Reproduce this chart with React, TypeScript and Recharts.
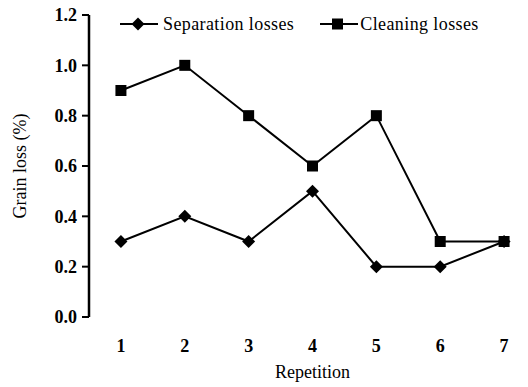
import { Label, Legend, Line, LineChart, XAxis, YAxis } from 'recharts';

const repetitions = [1, 2, 3, 4, 5, 6, 7];
const separationLosses = [0.3, 0.4, 0.3, 0.5, 0.2, 0.2, 0.3];
const cleaningLosses = [0.9, 1.0, 0.8, 0.6, 0.8, 0.3, 0.3];
const yTicks = [0, 0.2, 0.4, 0.6, 0.8, 1.0, 1.2];
const bandEdges = [0.5, 1.5, 2.5, 3.5, 4.5, 5.5, 6.5, 7.5];

const data = repetitions.map((rep, i) => ({
  rep,
  separation: separationLosses[i],
  cleaning: cleaningLosses[i],
}));

const FONT = '"Liberation Serif", "Times New Roman", serif';

function Diamond(props: any) {
  const { cx, cy, index } = props;
  return <path key={`d-${index}`} d={`M${cx},${cy - 6.5}L${cx + 6.5},${cy}L${cx},${cy + 6.5}L${cx - 6.5},${cy}Z`} fill="#000" />;
}

function Square(props: any) {
  const { cx, cy, index } = props;
  return <rect key={`s-${index}`} x={cx - 5.5} y={cy - 5.5} width={11} height={11} fill="#000" />;
}

function LegendContent() {
  const item = (label: string, marker: 'diamond' | 'square', gap: number) => (
    <div style={{ display: 'flex', alignItems: 'center', marginRight: gap }}>
      <svg width={38} height={14}>
        <line x1={0} y1={7} x2={38} y2={7} stroke="#000" strokeWidth={2} />
        {marker === 'diamond' ? (
          <path d="M18,0.5L24.5,7L18,13.5L11.5,7Z" fill="#000" />
        ) : (
          <rect x={12} y={1.5} width={11} height={11} fill="#000" />
        )}
      </svg>
      <span style={{ marginLeft: marker === 'diamond' ? 5 : 2, letterSpacing: 0.4 }}>{label}</span>
    </div>
  );
  return (
    <div style={{ display: 'flex', fontFamily: FONT, fontSize: 18, lineHeight: '20px', color: '#000' }}>
      {item('Separation losses', 'diamond', 26)}
      {item('Cleaning losses', 'square', 0)}
    </div>
  );
}

export default function App() {
  return (
    <div style={{ position: 'absolute', left: 0, top: 0, width: 528, height: 387, overflow: 'hidden', background: '#fff' }}>
      <LineChart width={545} height={387} data={data} margin={{ top: 15, right: 9, bottom: 0, left: 0 }}>
        <XAxis
          xAxisId="edges"
          dataKey="rep"
          type="number"
          domain={[0.5, 7.5]}
          ticks={bandEdges}
          tickFormatter={() => ''}
          height={0}
          tickSize={8}
          axisLine={{ stroke: '#000', strokeWidth: 2.5 }}
          tickLine={{ stroke: '#000', strokeWidth: 2 }}
        />
        <XAxis
          xAxisId="labels"
          dataKey="rep"
          type="number"
          domain={[0.5, 7.5]}
          ticks={repetitions}
          height={70}
          tickSize={0}
          tickMargin={22}
          axisLine={false}
          tickLine={false}
          tick={{ fill: '#000', fontFamily: FONT, fontSize: 18, fontWeight: 'bold' }}
        >
          <Label
            content={({ viewBox }: any) => (
              <text x={viewBox.x + viewBox.width / 2} y={378} textAnchor="middle" fontFamily={FONT} fontSize={18} fill="#000">
                Repetition
              </text>
            )}
          />
        </XAxis>
        <YAxis
          domain={[0, 1.2]}
          ticks={yTicks}
          width={89}
          tickSize={7}
          tickMargin={5}
          tickFormatter={(v: number) => v.toFixed(1)}
          axisLine={{ stroke: '#000', strokeWidth: 2.5 }}
          tickLine={{ stroke: '#000', strokeWidth: 2 }}
          tick={{ fill: '#000', fontFamily: FONT, fontSize: 18, fontWeight: 'bold' }}
        >
          <Label
            content={({ viewBox }: any) => {
              const cx = 20;
              const cy = viewBox.y + viewBox.height / 2;
              return (
                <text x={cx} y={cy} transform={`rotate(-90 ${cx} ${cy})`} textAnchor="middle" dominantBaseline="central" fontFamily={FONT} fontSize={18} fill="#000">
                  Grain loss (%)
                </text>
              );
            }}
          />
        </YAxis>
        <Legend
          layout="horizontal"
          verticalAlign="middle"
          align="center"
          wrapperStyle={{ top: 14, left: 120, width: 'auto' }}
          content={() => <LegendContent />}
        />
        <Line
          xAxisId="edges"
          dataKey="separation"
          name="Separation losses"
          stroke="#000"
          strokeWidth={2}
          dot={Diamond}
          activeDot={false}
          isAnimationActive={false}
        />
        <Line
          xAxisId="edges"
          dataKey="cleaning"
          name="Cleaning losses"
          stroke="#000"
          strokeWidth={2}
          dot={Square}
          activeDot={false}
          isAnimationActive={false}
        />
      </LineChart>
    </div>
  );
}
